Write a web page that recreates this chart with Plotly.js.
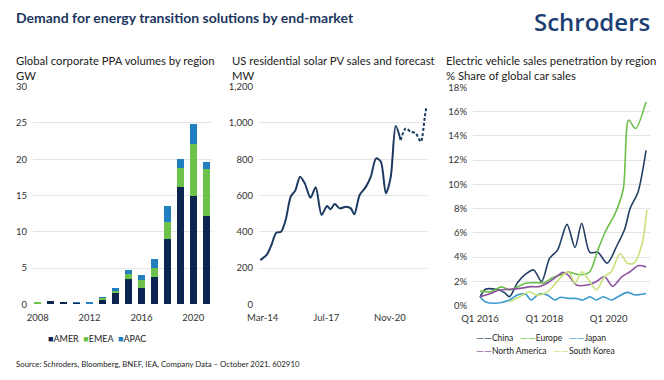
<!DOCTYPE html>
<html><head><meta charset="utf-8">
<script src="https://cdn.plot.ly/plotly-3.0.1.min.js"></script>
<style>html,body{margin:0;padding:0;background:#fff}#chart{width:664px;height:380px}</style>
</head><body><div id="chart"></div>
<script>
// ---- Left: Global corporate PPA volumes by region (GW)
const ppaYears = [2008,2009,2010,2011,2012,2013,2014,2015,2016,2017,2018,2019,2020,2021];
const ppaAmer = [0,0.4,0.25,0.2,0.1,0.6,1.5,3.45,2.3,3.8,9.0,16.2,14.9,12.2];
const ppaEmea = [0.25,0,0,0,0,0.25,0.4,0.75,1.1,1.15,2.4,2.6,7.2,6.4];
const ppaApac = [0,0.1,0,0.15,0.25,0.2,0.4,0.5,0.7,1.3,2.15,1.3,2.8,1.0];
const ppaSeries = ['AMER','EMEA','APAC'];
const ppaTicks = [2008,2012,2016,2020];

// ---- Middle: US residential solar PV sales and forecast (MW)
const solarDates = ['2014-01-15','2014-05-15','2014-08-15','2014-11-15','2015-02-15','2015-05-15','2015-08-20','2015-11-15','2016-02-15','2016-05-15','2016-09-01','2016-12-10','2017-04-01','2017-07-15','2017-09-20','2017-12-10','2018-03-15','2018-07-15','2018-10-15','2018-12-20','2019-04-01','2019-08-01','2019-11-01','2020-02-10','2020-05-10','2020-08-15','2020-11-15','2021-02-20','2021-05-25'];
const solarValues = [244,272,327,395,400,465,594,627,704,667,588,645,493,542,524,553,529,538,529,496,603,649,704,805,787,612,700,983,906];
const forecastDates = ['2021-05-25','2021-09-01','2021-12-01','2022-03-10','2022-06-15','2022-09-01','2022-10-01'];
const forecastValues = [906,970,952,943,897,1035,1090];
const solarTicks = ['2014-03-01','2017-07-01','2020-11-01'];

// ---- Right: Electric vehicle sales penetration by region (% share)
const chinaDates = ['2016-01-01','2016-03-01','2016-07-01','2016-10-01','2016-12-01','2017-03-01','2017-06-01','2017-09-01','2017-12-01','2018-03-01','2018-06-01','2018-09-15','2018-12-15','2019-03-01','2019-06-01','2019-09-01','2019-12-15','2020-04-01','2020-07-01','2020-09-01','2020-12-01','2021-03-01'];
const chinaValues = [0.7,1.35,1.35,1.1,0.75,1.9,2.6,2.95,2.0,3.9,4.6,6.7,4.8,6.8,4.4,4.4,3.5,4.9,6.3,8.0,9.4,12.8];
const europeDates = ['2016-01-01','2016-05-01','2016-09-01','2016-12-01','2017-03-01','2017-06-01','2017-09-01','2018-01-01','2018-04-01','2018-08-01','2018-10-01','2018-12-01','2019-03-01','2019-06-01','2019-09-01','2019-12-01','2020-03-15','2020-06-15','2020-08-15','2020-11-01','2021-03-01'];
const europeValues = [1.2,1.15,1.55,1.3,1.55,1.85,1.9,1.9,2.3,2.6,2.8,2.65,2.55,2.8,4.6,6.2,7.6,9.6,15.3,14.6,16.8];
const japanDates = ['2016-01-01','2016-03-01','2016-07-01','2016-12-01','2017-03-01','2017-06-01','2017-08-01','2017-11-01','2018-02-01','2018-05-01','2018-07-01','2018-10-01','2019-01-01','2019-03-15','2019-06-01','2019-08-15','2019-11-01','2020-02-01','2020-04-15','2020-08-01','2020-11-01','2021-03-01'];
const japanValues = [0.74,0.33,0.2,0.47,0.88,0.96,0.47,0.96,0.88,0.47,0.7,0.6,0.6,0.47,0.74,0.47,0.74,0.47,0.74,1.1,0.88,1.0];
const naDates = ['2016-01-01','2016-05-01','2016-08-01','2016-12-01','2017-04-01','2017-08-01','2017-11-01','2018-02-01','2018-05-01','2018-08-01','2018-10-01','2019-01-01','2019-05-01','2019-08-15','2019-11-15','2020-02-15','2020-06-01','2020-09-01','2020-12-01','2021-03-01'];
const naValues = [0.74,1.0,1.3,1.35,1.43,1.57,1.57,1.85,2.3,2.75,2.5,1.7,1.7,2.0,2.4,1.6,2.4,2.8,3.3,3.2];
const skDates = ['2016-12-01','2017-02-15','2017-05-01','2017-07-15','2017-10-01','2018-01-01','2018-03-15','2018-07-01','2018-10-01','2018-12-15','2019-03-01','2019-06-01','2019-08-15','2019-11-15','2020-02-01','2020-05-10','2020-08-01','2020-10-15','2021-01-15','2021-03-10'];
const skValues = [0.33,0.6,0.88,1.15,0.88,1.0,1.4,2.3,2.8,1.85,2.8,2.0,1.3,2.4,2.8,4.3,3.5,3.5,5.1,7.9];
const evSeries = ['China','Europe','Japan','North America','South Korea'];
const evTicks = ['2016-01-01','2018-01-01','2020-01-01'];
const evTickText = ['Q1 2016','Q1 2018','Q1 2020'];

const FONT = 'Lato, "Open Sans", sans-serif';
const barColors = ['#0b2550','#6cc24a','#1f7fc0'];
const evColors = ['#243f66','#6cbf48','#3a9ad0','#8e52a0','#c8e27a'];
const W = 664, H = 380;
const px = v => v / W, py = v => 1 - v / H;

const ppaData = [ppaAmer, ppaEmea, ppaApac];
const traces = ppaSeries.map((n,i) => ({type:'bar', x:ppaYears, y:ppaData[i], name:n, marker:{color:barColors[i]}, width:0.55, xaxis:'x', yaxis:'y', showlegend:false}));
traces.push(
  {type:'scatter', mode:'lines', x:solarDates, y:solarValues, name:'Sales', line:{color:'#1d3a60', width:2, shape:'spline', smoothing:0.8}, xaxis:'x2', yaxis:'y2', showlegend:false},
  {type:'scatter', mode:'lines', x:forecastDates, y:forecastValues, name:'Forecast', line:{color:'#1d3a60', width:2, dash:'3px,2px', shape:'spline', smoothing:0.8}, xaxis:'x2', yaxis:'y2', showlegend:false}
);
const evX = [chinaDates, europeDates, japanDates, naDates, skDates];
const evY = [chinaValues, europeValues, japanValues, naValues, skValues];
evSeries.forEach((n,i) => traces.push({type:'scatter', mode:'lines', x:evX[i], y:evY[i], name:n, line:{color:evColors[i], width:1.6, shape:'spline', smoothing:0.8}, xaxis:'x3', yaxis:'y3', showlegend:false}));

const tickFont = {family:FONT, size:9.5, color:'#333'};
const gridC = '#e4e4e4';
const yBase = {showline:false, zeroline:false, showgrid:true, gridcolor:gridC, gridwidth:1, tickfont:tickFont, ticks:'', ticklabelstandoff:5, fixedrange:true};
const xBase = {showline:false, zeroline:false, showgrid:false, tickfont:tickFont, ticks:'', ticklabelstandoff:6, fixedrange:true};

const annText = (x, y, text, size, opts={}) => Object.assign({xref:'paper', yref:'paper', x:px(x), y:py(y), xanchor:'left', yanchor:'middle', showarrow:false, text:text, font:{family:FONT, size:size, color:'#222'}}, opts);
const sq = (c) => '<span style="color:' + c + ';font-size:9px">■</span>';
const ln = (c) => '<span style="color:' + c + ';font-size:10px">——</span>';

const legendBar = ppaSeries.map((n,i) => sq(barColors[i]) + n).join('  ');
const legendEv1 = [0,1,2].map(i => ln(evColors[i]) + evSeries[i]).join('   ');
const legendEv2 = [3,4].map(i => ln(evColors[i]) + evSeries[i]).join('   ');

const layout = {
  width:W, height:H, margin:{l:0,r:0,t:0,b:0}, paper_bgcolor:'#fff', plot_bgcolor:'#fff',
  barmode:'stack', font:{family:FONT}, showlegend:false,
  xaxis:Object.assign({}, xBase, {domain:[px(33), px(212)], range:[2007.64, 2021.44], tickvals:ppaTicks, anchor:'y'}),
  yaxis:Object.assign({}, yBase, {domain:[1-304.3/H, 1-86.7/H], range:[0,30], dtick:5, anchor:'x'}),
  xaxis2:Object.assign({}, xBase, {type:'date', domain:[px(259), px(427)], range:['2013-12-20','2022-10-12'], tickvals:solarTicks, tickformat:'%b-%y', anchor:'y2'}),
  yaxis2:Object.assign({}, yBase, {domain:[1-304.3/H, 1-86.7/H], range:[0,1200], dtick:200, tickformat:',d', anchor:'x2'}),
  xaxis3:Object.assign({}, xBase, {type:'date', domain:[px(473), px(650)], range:['2015-10-13','2021-04-15'], tickvals:evTicks, ticktext:evTickText, anchor:'y3'}),
  yaxis3:Object.assign({}, yBase, {domain:[1-305.7/H, 1-87.3/H], range:[0,18], dtick:2, ticksuffix:'%', anchor:'x3'}),
  annotations:[
    annText(14, 17, '<b>Demand for energy transition solutions by end-market</b>', 14, {font:{family:FONT, size:14, color:'#1c3660'}}),
    annText(652, 22, 'Schroders', 24, {xanchor:'right', font:{family:'"Open Sans", sans-serif', size:24, color:'#1c3e72', weight:600}}),
    annText(14, 61, 'Global corporate PPA volumes by region', 11.3),
    annText(14, 75, 'GW', 11.3),
    annText(230, 61, 'US residential solar PV sales and forecast', 11.3),
    annText(230, 75, 'MW', 11.3),
    annText(444, 61, 'Electric vehicle sales penetration by region', 11.3),
    annText(444, 75, '% Share of global car sales', 11.3),
    annText(46, 338, legendBar, 9),
    annText(474, 337, legendEv1, 8.5),
    annText(474, 350, legendEv2, 8.5),
    annText(14, 364, 'Source: Schroders, Bloomberg, BNEF, IEA, Company Data – October 2021. 602910', 7.8)
  ]
};

Plotly.newPlot('chart', traces, layout, {staticPlot:true, displayModeBar:false});
</script></body></html>
